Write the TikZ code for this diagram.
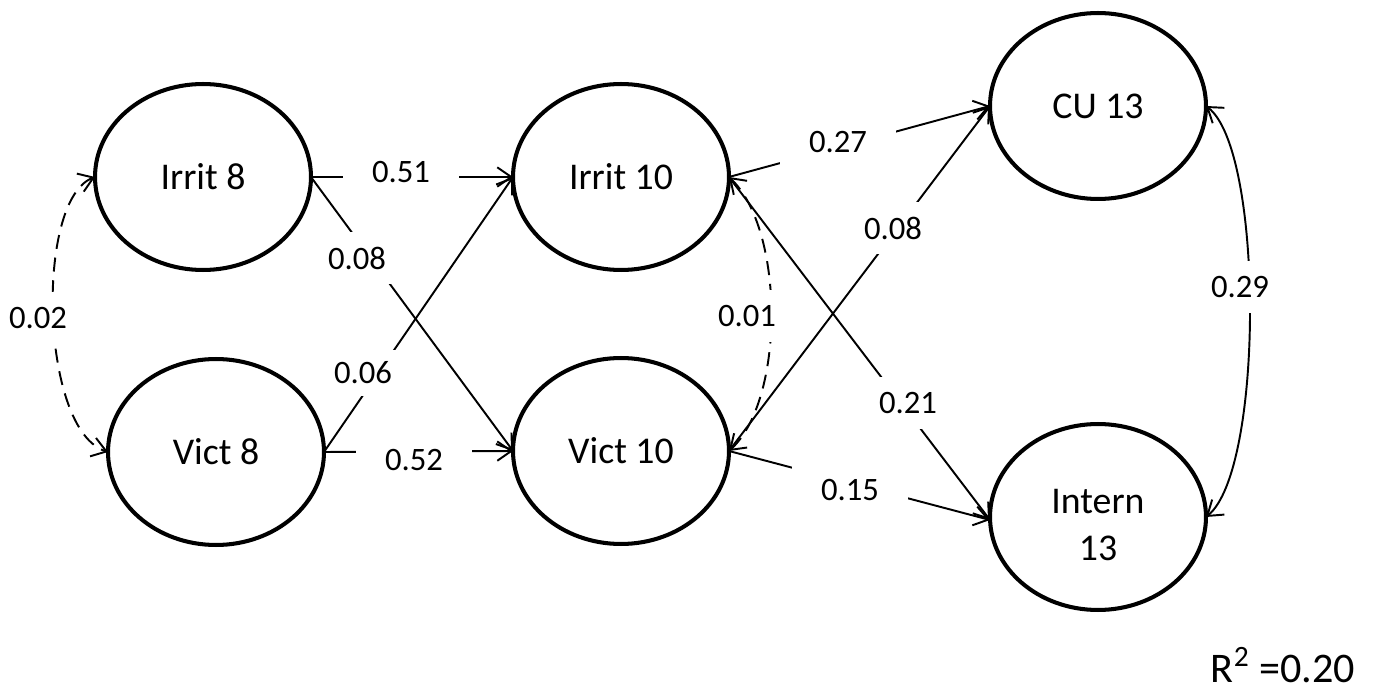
\documentclass[tikz,border=0pt]{standalone}
\usepackage{fontspec}
\setmainfont{Carlito}
\usetikzlibrary{shapes.geometric,arrows.meta}
\begin{document}
\begin{tikzpicture}[x=0.02cm,y=-0.02cm,
  latent/.style={ellipse,draw,line width=2.3pt,minimum width=4.32cm,minimum height=3.72cm,
    inner sep=0pt,outer sep=0pt,font=\fontsize{21.5}{26}\selectfont,align=center},
  effect/.style={line width=1.1pt,-{Straight Barb[length=8pt,width=11pt]}},
  cov/.style={line width=1.1pt,{Straight Barb[length=8pt,width=11pt]}-{Straight Barb[length=8pt,width=11pt]}},
  covd/.style={cov,dash pattern=on 8pt off 5pt},
  lab/.style={fill=white,font=\fontsize{18.6}{22}\selectfont,inner xsep=0.58cm,inner ysep=0.3cm}]
\useasboundingbox (0,0) rectangle (1373,692);

% latent variables
\node[latent] (i8)  at (203,177) {Irrit 8};
\node[latent] (v8)  at (216,452) {Vict 8};
\node[latent] (i10) at (621,177) {Irrit 10};
\node[latent] (v10) at (621,451) {Vict 10};
\node[latent] (cu)  at (1098,106) {CU 13};
\node[latent,label={[name=intxt,font=\fontsize{21.5}{27}\selectfont,align=center,yshift=-0.16cm]center:Intern\\13}] (in) at (1098,517) {};

% paths
\draw[effect] (i8.east) -- (i10.west);
\draw[effect] (i8.east) -- (v10.west);
\draw[effect] (v8.east) -- (i10.west);
\draw[effect] (v8.east) -- (v10.west);
\draw[effect] (i10.east) -- (cu.west);
\draw[effect] (v10.east) -- (cu.west);
\draw[effect] (i10.east) -- ([yshift=-0.06cm]in.west);
\draw[effect] (v10.east) -- ([yshift=-0.06cm]in.west);

% covariances
\draw[covd] (i8.west) .. controls (35,200) and (40,430) .. (v8.west);
\draw[covd] (i10.east) .. controls (785,230) and (785,400) .. (v10.east);
\draw[cov] (cu.east) .. controls (1264,150) and (1264,470) .. (in.east);

% labels
\node[lab] (l1) at (401,172) {0.51};
\node[lab] (l2) at (357,258) {0.08};
\node[lab,inner xsep=0.5cm,inner ysep=0.24cm] (l3) at (363,373) {0.06};
\node[lab] (l4) at (414,460) {0.52};
\node[lab] (l5) at (38,318) {0.02};
\node[lab] (l6) at (838,142) {0.27};
\node[lab] (l7) at (893,228) {0.08};
\node[lab,inner xsep=0.2cm] (l8) at (747,316) {0.01};
\node[lab] (l9) at (908,403) {0.21};
\node[lab] (l10) at (850,490) {0.15};
\node[lab,inner xsep=0.2cm] (l11) at (1240,287) {0.29};

\node[font=\fontsize{24}{28}\selectfont,inner sep=0pt] (r2) at (1283,665) {R\textsuperscript{2} =0.20};
\end{tikzpicture}
\end{document}
